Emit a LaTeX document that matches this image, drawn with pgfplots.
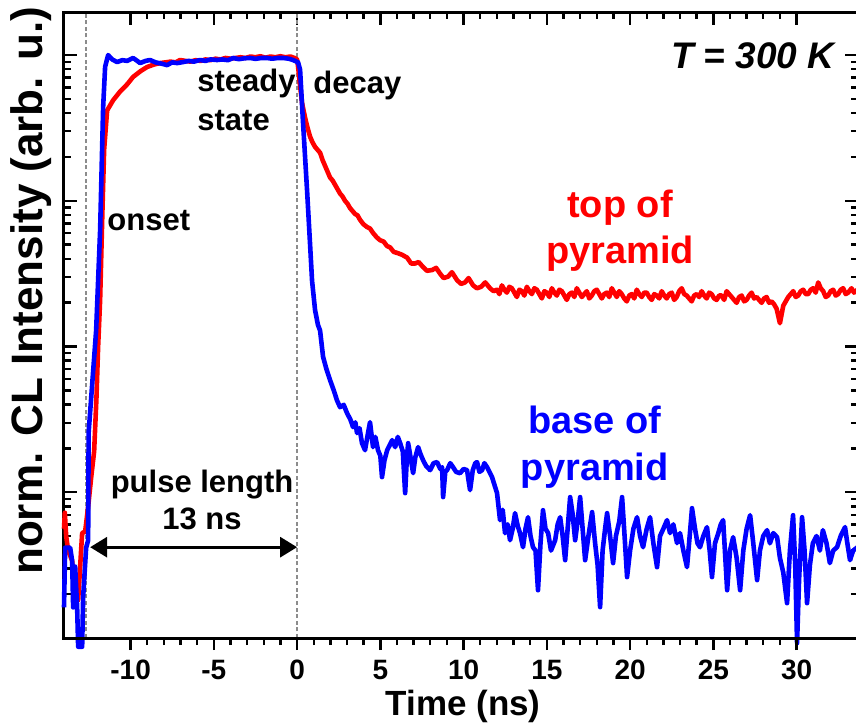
\documentclass[border=0pt]{standalone}
\usepackage{fontspec}
\setmainfont{Liberation Sans}
\usepackage{pgfplots}
\usepackage{pgfplotstable}
\pgfplotsset{compat=1.18}
\usetikzlibrary{arrows.meta}

% t in ns, ly = log10 of the normalised intensity
\pgfplotstableread{
t ly
-14.00 -3.25
-13.95 -3.14
-13.87 -3.30
-13.75 -3.40
-13.51 -3.47
-13.33 -3.74
-13.15 -3.74
-12.91 -3.28
-12.73 -3.27
-12.55 -3.10
-12.37 -2.90
-12.19 -2.72
-12.05 -2.35
-11.95 -2.00
-11.83 -1.68
-11.70 -1.10
-11.59 -0.65
-11.41 -0.38
-11.05 -0.31
-10.63 -0.25
-10.20 -0.20
-9.85 -0.15
-9.40 -0.11
-9.01 -0.082
-8.60 -0.065
-8.23 -0.055
-7.90 -0.05
-7.60 -0.045
-7.30 -0.05
-7.03 -0.034
-6.70 -0.04
-6.40 -0.045
-6.10 -0.035
-5.80 -0.04
-5.50 -0.03
-5.20 -0.035
-4.90 -0.025
-4.60 -0.03
-4.30 -0.02
-4.00 -0.025
-3.70 -0.02
-3.40 -0.015
-3.10 -0.02
-2.80 -0.01
-2.50 -0.015
-2.20 -0.008
-1.90 -0.018
-1.60 -0.01
-1.30 -0.015
-1.00 -0.008
-0.70 -0.015
-0.40 -0.01
-0.15 -0.02
0.00 -0.03
0.06 -0.08
0.18 -0.21
0.30 -0.33
0.48 -0.43
0.63 -0.50
0.78 -0.56
0.93 -0.60
1.08 -0.63
1.23 -0.65
1.38 -0.67
1.53 -0.72
1.68 -0.76
1.83 -0.80
1.98 -0.84
2.13 -0.86
2.28 -0.89
2.43 -0.92
2.58 -0.95
2.73 -0.97
2.88 -1.00
3.03 -1.02
3.18 -1.05
3.33 -1.07
3.48 -1.09
3.63 -1.10
3.78 -1.13
3.98 -1.16
4.20 -1.18
4.38 -1.19
4.56 -1.22
4.78 -1.25
4.98 -1.27
5.20 -1.28
5.40 -1.31
5.59 -1.32
5.80 -1.35
6.07 -1.36
6.30 -1.37
6.61 -1.39
6.85 -1.43
7.09 -1.43
7.30 -1.42
7.57 -1.455
7.80 -1.48
8.11 -1.475
8.35 -1.46
8.59 -1.50
8.80 -1.53
9.07 -1.52
9.30 -1.49
9.61 -1.545
9.85 -1.57
10.09 -1.56
10.30 -1.53
10.57 -1.58
10.80 -1.60
11.05 -1.59
11.30 -1.56
11.59 -1.60
11.80 -1.62
12.00 -1.61
12.15 -1.64
12.30 -1.58
12.45 -1.61
12.60 -1.63
12.75 -1.59
12.90 -1.60
13.05 -1.63
13.20 -1.66
13.35 -1.61
13.50 -1.62
13.65 -1.65
13.80 -1.59
13.95 -1.62
14.10 -1.64
14.25 -1.60
14.40 -1.61
14.55 -1.64
14.70 -1.67
14.85 -1.62
15.00 -1.63
15.15 -1.66
15.30 -1.60
15.45 -1.63
15.60 -1.65
15.75 -1.61
15.90 -1.62
16.05 -1.65
16.20 -1.68
16.35 -1.64
16.50 -1.63
16.65 -1.66
16.80 -1.60
16.95 -1.63
17.10 -1.66
17.25 -1.64
17.40 -1.62
17.55 -1.67
17.70 -1.65
17.85 -1.62
18.00 -1.61
18.15 -1.64
18.30 -1.67
18.45 -1.64
18.60 -1.63
18.75 -1.66
18.90 -1.60
19.05 -1.63
19.20 -1.66
19.35 -1.62
19.50 -1.64
19.65 -1.67
19.80 -1.69
19.95 -1.65
20.10 -1.64
20.25 -1.67
20.40 -1.61
20.55 -1.64
20.70 -1.66
20.85 -1.63
21.00 -1.63
21.15 -1.66
21.30 -1.68
21.45 -1.64
21.60 -1.65
21.75 -1.67
21.90 -1.62
22.05 -1.65
22.20 -1.67
22.35 -1.64
22.50 -1.63
22.65 -1.68
22.80 -1.66
22.95 -1.62
23.10 -1.60
23.25 -1.64
23.40 -1.65
23.55 -1.67
23.70 -1.69
23.85 -1.65
24.00 -1.64
24.15 -1.66
24.30 -1.62
24.45 -1.65
24.60 -1.67
24.75 -1.63
24.90 -1.64
25.05 -1.67
25.20 -1.68
25.35 -1.65
25.50 -1.65
25.65 -1.68
25.80 -1.62
25.95 -1.64
26.10 -1.66
26.25 -1.68
26.40 -1.70
26.55 -1.66
26.70 -1.65
26.85 -1.69
27.00 -1.68
27.15 -1.65
27.30 -1.63
27.45 -1.67
27.60 -1.66
27.75 -1.68
27.90 -1.70
28.05 -1.67
28.20 -1.66
28.35 -1.70
28.50 -1.69
28.65 -1.71
28.80 -1.74
29.00 -1.84
29.20 -1.72
29.35 -1.69
29.50 -1.66
29.65 -1.64
29.80 -1.62
29.95 -1.66
30.10 -1.65
30.25 -1.62
30.40 -1.61
30.55 -1.64
30.70 -1.64
30.85 -1.61
31.00 -1.60
31.15 -1.63
31.30 -1.56
31.45 -1.60
31.60 -1.62
31.75 -1.66
31.90 -1.65
32.05 -1.62
32.20 -1.61
32.35 -1.65
32.50 -1.64
32.65 -1.61
32.80 -1.60
32.95 -1.64
33.10 -1.63
33.30 -1.60
33.45 -1.63
33.66 -1.61
}\toptab

\pgfplotstableread{
t ly
-14.00 -3.79
-13.93 -3.38
-13.63 -3.38
-13.51 -3.47
-13.45 -3.79
-13.33 -3.51
-13.21 -3.79
-13.15 -4.06
-12.91 -4.06
-12.85 -3.72
-12.67 -3.38
-12.55 -3.33
-12.52 -2.59
-12.07 -1.89
-11.83 -1.20
-11.65 -0.36
-11.53 -0.08
-11.35 0.00
-11.10 -0.03
-10.81 -0.048
-10.50 -0.035
-10.20 -0.04
-9.85 -0.02
-9.60 -0.04
-9.43 -0.055
-9.10 -0.04
-8.83 -0.034
-8.50 -0.05
-8.10 -0.06
-7.81 -0.069
-7.50 -0.05
-7.20 -0.055
-6.85 -0.048
-6.50 -0.04
-6.20 -0.045
-5.83 -0.034
-5.50 -0.04
-5.20 -0.03
-4.80 -0.034
-4.50 -0.03
-4.15 -0.035
-3.84 -0.02
-3.50 -0.028
-3.15 -0.022
-2.82 -0.02
-2.50 -0.026
-2.15 -0.02
-1.80 -0.02
-1.50 -0.025
-1.15 -0.02
-0.84 -0.02
-0.50 -0.025
-0.24 -0.034
0.06 -0.05
0.18 -0.10
0.36 -0.47
0.60 -0.93
0.78 -1.30
0.90 -1.55
1.08 -1.75
1.25 -1.85
1.38 -1.89
1.56 -2.07
1.75 -2.15
1.98 -2.23
2.20 -2.30
2.40 -2.37
2.58 -2.416
2.80 -2.40
3.00 -2.457
3.20 -2.50
3.36 -2.553
3.50 -2.52
3.60 -2.594
3.75 -2.56
3.90 -2.663
4.08 -2.711
4.25 -2.60
4.38 -2.519
4.56 -2.690
4.70 -2.62
4.86 -2.711
5.00 -2.75
5.10 -2.896
5.25 -2.78
5.41 -2.711
5.55 -2.68
5.71 -2.642
5.89 -2.690
6.05 -2.62
6.19 -2.663
6.35 -2.72
6.49 -3.006
6.60 -2.75
6.67 -2.663
6.80 -2.75
6.97 -2.869
7.10 -2.76
7.27 -2.690
7.42 -2.74
7.57 -2.780
7.75 -2.82
7.99 -2.848
8.20 -2.80
8.41 -2.793
8.60 -2.84
8.71 -2.828
8.77 -3.033
8.90 -2.86
9.01 -2.848
9.20 -2.80
9.37 -2.828
9.55 -2.86
9.79 -2.869
10.00 -2.84
10.21 -2.848
10.30 -2.92
10.39 -2.985
10.55 -2.85
10.70 -2.80
10.81 -2.793
10.95 -2.86
11.11 -2.848
11.25 -2.80
11.41 -2.828
11.55 -2.86
11.71 -2.896
12.01 -3.006
12.19 -3.191
12.35 -3.12
12.49 -3.281
12.65 -3.22
12.79 -3.329
12.95 -3.25
13.09 -3.143
13.25 -3.23
13.39 -3.281
13.57 -3.377
13.72 -3.25
13.87 -3.171
14.02 -3.30
14.17 -3.377
14.32 -3.40
14.47 -3.672
14.62 -3.35
14.77 -3.123
14.92 -3.25
15.08 -3.281
15.25 -3.40
15.50 -3.329
15.65 -3.22
15.80 -3.171
15.95 -3.30
16.10 -3.466
16.25 -3.25
16.40 -3.033
16.55 -3.15
16.70 -3.329
16.85 -3.20
17.00 -3.033
17.15 -3.25
17.30 -3.466
17.50 -3.30
17.72 -3.136
17.90 -3.35
18.05 -3.50
18.20 -3.788
18.35 -3.40
18.50 -3.25
18.62 -3.143
18.80 -3.30
18.98 -3.486
19.15 -3.30
19.35 -3.20
19.52 -3.033
19.67 -3.30
19.82 -3.582
20.00 -3.40
20.20 -3.25
20.42 -3.171
20.60 -3.30
20.78 -3.377
21.00 -3.25
21.20 -3.171
21.40 -3.35
21.62 -3.514
21.80 -3.30
22.00 -3.25
22.22 -3.191
22.40 -3.28
22.60 -3.22
22.82 -3.349
23.00 -3.28
23.20 -3.40
23.42 -3.514
23.58 -3.30
23.72 -3.109
23.90 -3.25
24.05 -3.35
24.20 -3.377
24.40 -3.30
24.62 -3.239
24.78 -3.40
24.92 -3.582
25.10 -3.35
25.30 -3.28
25.45 -3.22
25.59 -3.191
25.72 -3.45
25.83 -3.672
26.00 -3.40
26.19 -3.308
26.40 -3.45
26.61 -3.672
26.80 -3.40
27.00 -3.25
27.21 -3.157
27.40 -3.35
27.63 -3.603
27.80 -3.40
28.00 -3.30
28.23 -3.260
28.40 -3.35
28.60 -3.28
28.83 -3.308
29.00 -3.45
29.20 -3.55
29.43 -3.761
29.60 -3.40
29.79 -3.157
29.92 -3.50
30.03 -4.035
30.15 -3.60
30.33 -3.171
30.48 -3.40
30.63 -3.761
30.80 -3.50
30.98 -3.349
31.20 -3.30
31.40 -3.40
31.58 -3.260
31.80 -3.35
32.00 -3.486
32.20 -3.40
32.43 -3.377
32.65 -3.30
32.91 -3.239
33.05 -3.35
33.21 -3.466
33.40 -3.40
33.66 -3.377
}\basetab

\begin{document}
\begin{tikzpicture}

\definecolor{topred}{HTML}{FF0000}
\definecolor{baseblue}{HTML}{0000FF}
\definecolor{marker}{HTML}{8C8C8C}

% frame: left, right and top ticks point inwards
\begin{axis}[
  at={(0,0)}, anchor=south west,
  width=396.75pt, height=312.75pt, scale only axis,
  xmin=-14, xmax=33.66, ymode=log, ymin=1e-4, ymax=1.96,
  axis line style={line width=1.5pt},
  tick style={line width=1.2pt, black},
  major tick length=6.5pt, minor tick length=3.5pt,
  xtick={-10,-5,...,30}, minor x tick num=4,
  tick align=inside,
  xtick pos=right, ytick pos=both,
  ytick={1e-4,1e-3,1e-2,1e-1,1},
  xticklabel=\empty, yticklabel=\empty,
  clip=false,
]

\draw[marker, line width=1.2pt, dash pattern=on 2pt off 1.3pt]
  (axis cs:-12.68,1e-4) -- (axis cs:-12.68,1.96);
\draw[marker, line width=1.2pt, dash pattern=on 2pt off 1.3pt]
  (axis cs:0,1e-4) -- (axis cs:0,1.96);

\addplot[topred, line width=2.3pt, line join=round] table[x=t, y expr={10^(\thisrow{ly})}] {\toptab};
\addplot[baseblue, line width=2.3pt, line join=round] table[x=t, y expr={10^(\thisrow{ly})}] {\basetab};

\draw[line width=1.5pt, {Triangle[length=8.5pt,width=10pt]}-{Triangle[length=8.5pt,width=10pt]}]
  (axis cs:-12.43,4.2e-4) -- (axis cs:0,4.2e-4);

\node[anchor=base west, inner sep=0, font=\fontsize{15.5}{18}\selectfont\bfseries]
  at (rel axis cs:0.1676,0.873) {steady};
\node[anchor=base west, inner sep=0, font=\fontsize{15.5}{18}\selectfont\bfseries]
  at (rel axis cs:0.1676,0.812) {state};
\node[anchor=base west, inner sep=0, font=\fontsize{15.5}{18}\selectfont\bfseries]
  at (rel axis cs:0.3138,0.871) {decay};
\node[anchor=base west, inner sep=0, font=\fontsize{15.5}{18}\selectfont\bfseries]
  at (rel axis cs:0.0542,0.652) {onset};
\node[anchor=base, inner sep=0, font=\fontsize{15.5}{18}\selectfont\bfseries]
  at (rel axis cs:0.174,0.2334) {pulse length};
\node[anchor=base, inner sep=0, font=\fontsize{15.5}{18}\selectfont\bfseries]
  at (rel axis cs:0.174,0.1727) {13 ns};
\node[anchor=base east, inner sep=0, font=\fontsize{18.5}{20}\selectfont\bfseries\itshape]
  at (rel axis cs:0.9716,0.911) {T = 300 K};

\node[anchor=base, inner sep=0, text=topred, font=\fontsize{19}{22}\selectfont\bfseries]
  at (rel axis cs:0.7007,0.6715) {top of};
\node[anchor=base, inner sep=0, text=topred, font=\fontsize{19}{22}\selectfont\bfseries]
  at (rel axis cs:0.7007,0.5995) {pyramid};
\node[anchor=base, inner sep=0, text=baseblue, font=\fontsize{19}{22}\selectfont\bfseries]
  at (rel axis cs:0.669,0.3277) {base of};
\node[anchor=base, inner sep=0, text=baseblue, font=\fontsize{19}{22}\selectfont\bfseries]
  at (rel axis cs:0.669,0.2526) {pyramid};

\node[rotate=90, anchor=base, inner sep=0, font=\fontsize{22}{24}\selectfont\bfseries]
  at (rel axis cs:-0.0277,0.555) {norm. CL Intensity (arb. u.)};
\node[anchor=base, inner sep=0, font=\fontsize{17.5}{20}\selectfont\bfseries]
  at (rel axis cs:0.503,-0.1245) {Time (ns)};
\end{axis}

% bottom axis: ticks point outwards, with labels
\begin{axis}[
  at={(0,0)}, anchor=south west,
  width=396.75pt, height=312.75pt, scale only axis,
  xmin=-14, xmax=33.66, ymode=log, ymin=1e-4, ymax=1.96,
  axis x line*=bottom, axis y line=none,
  axis line style={-, line width=1.5pt},
  tick style={line width=1.2pt, black},
  major tick length=6pt, minor tick length=3.5pt,
  xtick={-10,-5,...,30}, minor x tick num=4,
  tick align=outside,
  xticklabels={-10,-5,0,5,10,15,20,25,30},
  xticklabel style={font=\fontsize{14}{14}\selectfont\bfseries, yshift=-4pt, inner sep=1pt},
]
\end{axis}

\pgfresetboundingbox
\path (-32pt,-42.5pt) rectangle (396pt,319pt);
\end{tikzpicture}
\end{document}
